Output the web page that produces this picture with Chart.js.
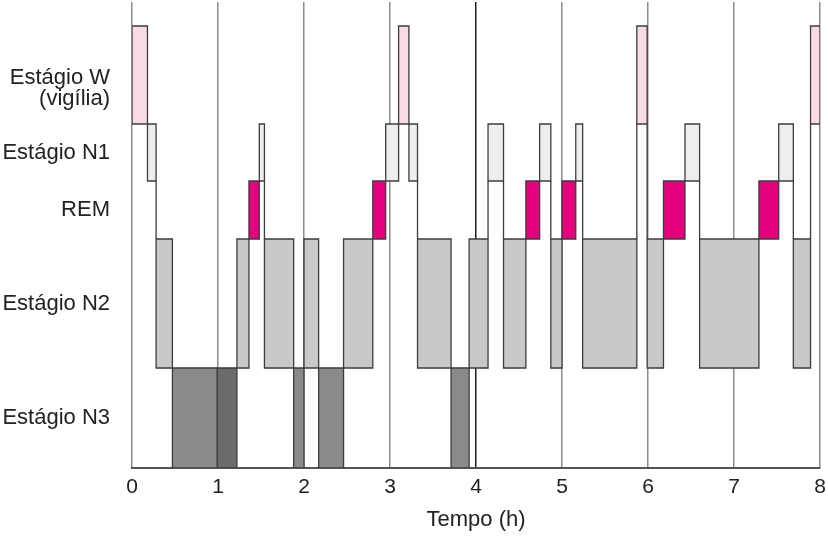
<!DOCTYPE html>
<html><head><meta charset="utf-8">
<script src="https://cdn.jsdelivr.net/npm/chart.js@4"></script>
<style>html,body{margin:0;padding:0;background:#fff}#c{display:block}</style>
</head><body>
<canvas id="c" width="828" height="541"></canvas>
<script>
// ---- Data: hypnogram segments (time in hours) ----
const segStart = [0.00,0.18,0.28,0.47,0.99,1.22,1.36,1.48,1.54,1.88,2.00,2.17,2.46,2.80,2.95,3.10,3.22,3.32,3.71,3.92,4.14,4.32,4.58,4.74,4.87,5.00,5.16,5.24,5.87,5.99,6.18,6.43,6.60,7.29,7.52,7.69,7.89];
const segEnd   = [0.18,0.28,0.47,0.99,1.22,1.36,1.48,1.54,1.88,2.00,2.17,2.46,2.80,2.95,3.10,3.22,3.32,3.71,3.92,4.14,4.32,4.58,4.74,4.87,5.00,5.16,5.24,5.87,5.99,6.18,6.43,6.60,7.29,7.52,7.69,7.89,8.00];
const segStage = ['W','N1','N2','N3','N3p','N2','REM','N1','N2','N3','N2','N3','N2','REM','N1','W','N1','N2','N3','N2','N1','N2','REM','N1','N2','REM','N1','N2','W','N2','REM','N1','N2','REM','N1','N2','W'];

// stage bands (top to bottom) and their labels
const stageCodes  = ['W','N1','REM','N2','N3'];
const stageLabels = [['Estágio W','(vigília)'],'Estágio N1','REM','Estágio N2','Estágio N3'];
const bandLow  = [344,287,229,100,0];
const bandHigh = [442,344,287,229,100];
const xTicks = [0,1,2,3,4,5,6,7,8];

// ---- styles ----
const fills = {W:'#f9dbe8', N1:'#eeeeee', REM:'#e5007d', N2:'#c9c9c9', N3:'#8a8a8a', N3p:'#6b6b6b'};
const edge = '#3d3d3d';

function band(code){
  const i = stageCodes.indexOf(code === 'N3p' ? 'N3' : code);
  return [bandLow[i], bandHigh[i]];
}

const drawCodes = ['W','N1','REM','N2','N3','N3p'];
const datasets = drawCodes.map(code => {
  const pts = [];
  segStage.forEach((s, i) => {
    if (s !== code) return;
    const [lo, hi] = band(s);
    const a = segStart[i], b = segEnd[i];
    pts.push({x:a,y:lo},{x:a,y:hi},{x:b,y:hi},{x:b,y:lo},{x:a,y:lo},{x:b,y:null});
  });
  return {label: code, data: pts, fill: 'shape', backgroundColor: fills[code],
    borderColor: edge, borderWidth: 1.3, pointRadius: 0, pointHoverRadius: 0,
    tension: 0, spanGaps: false, borderJoinStyle: 'miter', borderCapStyle: 'square'};
});

// transitions (vertical connectors between non-adjacent bands)
const conn = [];
for (let i = 0; i < segStage.length - 1; i++) {
  const [lo1, hi1] = band(segStage[i]);
  const [lo2, hi2] = band(segStage[i+1]);
  const t = segEnd[i];
  let y1, y2;
  if (lo1 >= hi2) { y1 = lo1; y2 = hi2; }
  else if (lo2 >= hi1) { y1 = hi1; y2 = lo2; }
  else continue;
  if (y1 === y2) continue;
  conn.push({x:t,y:y1},{x:t,y:y2},{x:t,y:null});
}
datasets.unshift({label:'trans', data: conn, fill:false, borderColor: edge, borderWidth: 1.3,
  pointRadius: 0, pointHoverRadius: 0, tension: 0, spanGaps: false});

const FONT = "'Liberation Sans', Arial, Helvetica, sans-serif";

new Chart(document.getElementById('c'), {
  type: 'line',
  data: { datasets },
  options: {
    responsive: false,
    animation: false,
    events: [],
    layout: { padding: { top: 2, right: 8, left: 0, bottom: 0 } },
    plugins: { legend: { display: false }, tooltip: { enabled: false } },
    scales: {
      x: {
        type: 'linear', min: 0, max: 8, z: 1,
        afterBuildTicks: s => { s.ticks = xTicks.map(v => ({value: v})); },
        afterFit: s => { s.height = 73; s.paddingLeft = 0; s.paddingRight = 0; },
        grid: { drawTicks: false,
          color: c => (c.tick && c.tick.value === 4) ? '#1e1e1e' : '#8c8c8c',
          lineWidth: 1.5 },
        border: { display: true, color: '#555', width: 2 },
        ticks: { padding: 7, color: '#222', font: { family: FONT, size: 21 }, maxRotation: 0 },
        title: { display: true, text: 'Tempo (h)', color: '#222', font: { family: FONT, size: 22 }, padding: { top: 0, bottom: 8 } }
      },
      y: {
        type: 'linear', min: 0, max: 466,
        afterBuildTicks: s => { s.ticks = stageCodes.map((c, i) => ({value: (bandLow[i] + bandHigh[i]) / 2 + (c === 'W' ? -13 : 0)})); },
        afterFit: s => { s.width = 132; s.paddingTop = 0; s.paddingBottom = 0; },
        grid: { display: false, drawTicks: false },
        border: { display: false },
        ticks: { autoSkip: false, padding: 22, color: '#222', crossAlign: 'near',
          font: { family: FONT, size: 22, lineHeight: 0.95 },
          callback: (v, i) => stageLabels[i] }
      }
    }
  }
});
</script>
</body></html>
